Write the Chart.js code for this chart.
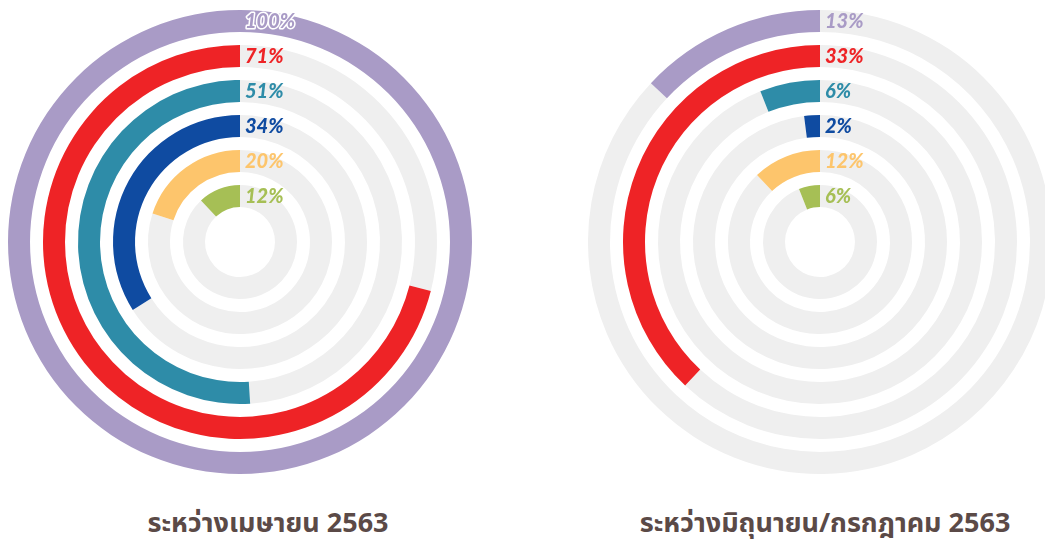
<!DOCTYPE html>
<html>
<head>
<meta charset="utf-8">
<script src="https://cdn.jsdelivr.net/npm/chart.js@4.4.1/dist/chart.umd.min.js"></script>
<style>
  html, body { margin: 0; padding: 0; background: #fff; overflow: hidden; }
  body { width: 1045px; height: 548px; position: relative; }
  .ring { position: absolute; top: 10px; width: 464px; height: 464px; }
  .title {
    position: absolute; top: 503px; width: 520px; text-align: center;
    font: bold 27px "Noto Sans Thai", "Noto Sans", "DejaVu Sans", sans-serif;
    color: #5b4a47;
  }
</style>
</head>
<body>
<div class="ring" style="left:8px"><canvas id="chartApr" width="464" height="464"></canvas></div>
<div class="ring" style="left:588px"><canvas id="chartJunJul" width="464" height="464"></canvas></div>
<div class="title" style="left:8px">ระหว่างเมษายน 2563</div>
<div class="title" style="left:565px">ระหว่างมิถุนายน/กรกฎาคม 2563</div>
<script>
// Ring values, outermost first (percent of a full circle, as drawn)
const aprValues = [100, 71, 51, 34, 20, 12];
const junJulValues = [13, 38, 6, 2, 12, 6];
// Labels printed next to each ring
const aprLabels = ['100%', '71%', '51%', '34%', '20%', '12%'];
const junJulLabels = ['13%', '33%', '6%', '2%', '12%', '6%'];
const ringColors = ['#a99bc6', '#ee2326', '#2e8ca8', '#0f4ba1', '#fdc56c', '#a6bf55'];
const trackColor = '#efefef';
const gapWeight = 0.59;

// Build doughnut datasets: grey remainder first, value last so the arc ends at 12 o'clock
function buildDatasets(values, labels) {
    const sets = [];
    values.forEach((v, i) => {
        if (i > 0) {
            sets.push({ data: [1], backgroundColor: ['rgba(0,0,0,0)'], borderWidth: 0, weight: gapWeight, isGap: true });
        }
        sets.push({
            data: [100 - v, v],
            backgroundColor: [trackColor, ringColors[i]],
            borderWidth: 0,
            weight: 1,
            pct: v,
            labelText: labels[i],
            color: ringColors[i]
        });
    });
    return sets;
}

// Draws the percent label to the right of each ring's start
const ringLabels = {
    id: 'ringLabels',
    afterDatasetsDraw(chart) {
        const ctx = chart.ctx;
        ctx.save();
        ctx.font = 'italic 900 20px Lato, "Open Sans", sans-serif';
        ctx.textBaseline = 'middle';
        ctx.textAlign = 'left';
        ctx.lineJoin = 'round';
        chart.data.datasets.forEach((ds, i) => {
            if (ds.isGap) return;
            const arc = chart.getDatasetMeta(i).data[0];
            const r = (arc.innerRadius + arc.outerRadius) / 2;
            const x = arc.x + 5;
            const y = arc.y - r + 1;
            if (ds.pct === 100) {
                ctx.lineWidth = 3;
                ctx.strokeStyle = '#ffffff';
                ctx.strokeText(ds.labelText, x, y);
            }
            ctx.fillStyle = ds.color;
            ctx.fillText(ds.labelText, x, y);
        });
        ctx.restore();
    }
};

function makeChart(id, values, labels) {
    const ctx = document.getElementById(id).getContext('2d');
    new Chart(ctx, {
        type: 'doughnut',
        data: { datasets: buildDatasets(values, labels) },
        options: {
            responsive: false,
            animation: false,
            events: [],
            cutout: 35,
            layout: { padding: 0 },
            plugins: { legend: { display: false }, tooltip: { enabled: false } }
        },
        plugins: [ringLabels]
    });
}

window.onload = () => {
    makeChart('chartApr', aprValues, aprLabels);
    makeChart('chartJunJul', junJulValues, junJulLabels);
};
</script>
</body>
</html>
